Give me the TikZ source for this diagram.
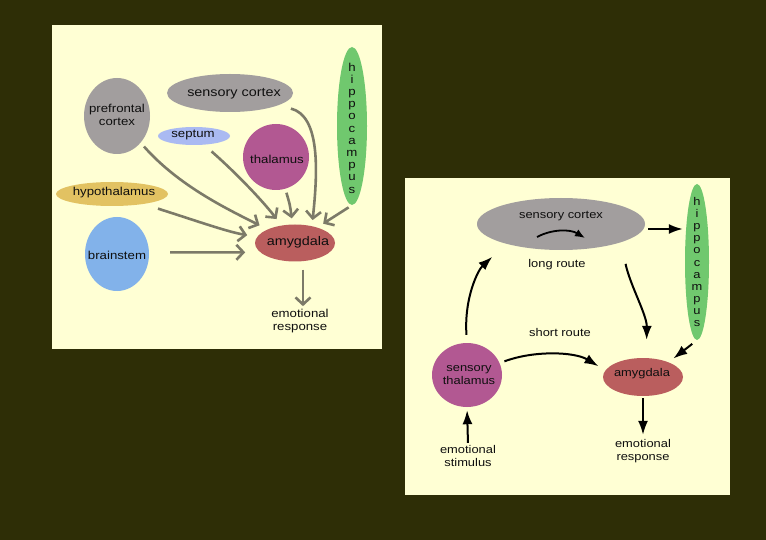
\documentclass[tikz,border=0pt]{standalone}
\usepackage{fontspec}
\setmainfont{Liberation Sans}[FakeStretch=1.15]
\usetikzlibrary{shapes.geometric,arrows.meta}
\definecolor{bgc}{RGB}{46,46,6}
\definecolor{panelc}{RGB}{255,255,212}
\definecolor{grayn}{RGB}{162,158,158}
\definecolor{septc}{RGB}{170,186,242}
\definecolor{thalc}{RGB}{178,88,146}
\definecolor{hipc}{RGB}{112,200,110}
\definecolor{hypoc}{RGB}{226,194,98}
\definecolor{stemc}{RGB}{130,178,234}
\definecolor{amyc}{RGB}{186,94,94}
\definecolor{larrc}{RGB}{124,122,104}
\definecolor{txtc}{RGB}{15,15,15}
\begin{document}
\begin{tikzpicture}[x=1pt,y=-1pt,
  blob/.style={ellipse, inner sep=0pt, draw=none},
  ltext/.style={text=txtc, inner sep=1pt, align=center, font=\fontsize{11.5}{12.5}\selectfont},
  lbig/.style={text=txtc, inner sep=1pt, align=center, font=\fontsize{12.5}{13.5}\selectfont},
  rtext/.style={text=txtc, inner sep=1pt, align=center, font=\fontsize{11.2}{13.5}\selectfont},
  larr/.style={draw=larrc, line width=2.6pt, -{Straight Barb[length=7pt,width=15pt]}},
  rarr/.style={draw=black, line width=2pt, -{Latex[length=14pt,width=10pt]}}]
\useasboundingbox (0,0) rectangle (766,540);
\fill[bgc] (0,0) rectangle (766,540);
\fill[panelc] (52,25) rectangle (382,349);
\fill[panelc] (405,178) rectangle (730,495);

% ---------- left panel ----------
\node[blob, fill=grayn, minimum width=66pt, minimum height=76pt] (pfc) at (117,116) {};
\node[ltext] (pfct) at (117,115) {prefrontal\\cortex};
\node[blob, fill=grayn, minimum width=126pt, minimum height=38pt] (sc) at (230,93) {};
\node[lbig] (sct) at (234,94) {sensory cortex};
\node[blob, fill=septc, minimum width=72pt, minimum height=18pt] (sep) at (194,136) {};
\node[ltext] (sept) at (193,135) {septum};
\node[blob, fill=thalc, minimum width=66pt, minimum height=66pt] (thal) at (276,157) {};
\node[ltext] (thalt) at (277,159) {thalamus};
\node[blob, fill=hipc, minimum width=30pt, minimum height=158pt] (hip) at (352,126) {};
\node[text=txtc, inner sep=0pt, align=center, font=\fontsize{11.5}{12.2}\selectfont] (hipt) at (352,128) {h\\i\\p\\p\\o\\c\\a\\m\\p\\u\\s};
\node[blob, fill=hypoc, minimum width=112pt, minimum height=24pt] (hypo) at (112,194) {};
\node[ltext] (hypot) at (114,193) {hypothalamus};
\node[blob, fill=stemc, minimum width=64pt, minimum height=74pt] (bs) at (117,254) {};
\node[ltext] (bst) at (117,255) {brainstem};
\node[blob, fill=amyc, minimum width=80pt, minimum height=37pt] (amy) at (295,243) {};
\node[lbig] (amyt) at (298,242) {amygdala};
\node[ltext] (resp) at (300,321) {emotional\\response};

\draw[larr, shorten <=5pt, shorten >=9pt] (pfc) .. controls (178,185) and (225,208) .. (amy);
\draw[larr, shorten <=10pt, shorten >=8pt] (sep) .. controls (235,172) and (262,200) .. (amy);
\draw[larr, shorten <=15pt, shorten >=10pt] (hypo) .. controls (200,222) and (228,232) .. (amy);
\draw[larr, shorten <=21pt, shorten >=15pt] (bs.3) -- (amy.195);
\draw[larr, shorten <=4pt, shorten >=6pt] (thal) .. controls (290,205) .. (amy);
\draw[larr, shorten <=13pt, shorten >=6pt] (sc) .. controls (320,116) and (318,170) .. (amy.45);
\draw[larr, shorten <=4pt, shorten >=7pt] (hip.south) -- (amy.35);
\draw[larr, shorten <=8pt, shorten >=2pt] ([xshift=8pt]amy.south) -- ([xshift=3pt]resp.north);

% ---------- right panel ----------
\node[blob, fill=grayn, minimum width=168pt, minimum height=52pt] (rsc) at (561,224) {};
\node[rtext] (rsct) at (561,216) {sensory cortex};
\coordinate (arcA) at (537,237);
\coordinate (arcB) at (585,238);
\draw[draw=black, line width=1.8pt, -{Latex[length=10pt,width=8pt]}] (arcA) .. controls (552,229) and (570,229) .. (arcB);
\node[rtext] (lr) at (557,265) {long route};
\node[rtext] (sr) at (560,332) {short route};
\node[blob, fill=hipc, minimum width=24pt, minimum height=156pt] (rhip) at (697,262) {};
\node[text=txtc, inner sep=0pt, align=center, font=\fontsize{11.2}{12.1}\selectfont] (rhipt) at (697,262) {h\\i\\p\\p\\o\\c\\a\\m\\p\\u\\s};
\node[blob, fill=thalc, minimum width=70pt, minimum height=64pt] (rth) at (467,375) {};
\node[rtext] (rtht) at (469,375) {sensory\\thalamus};
\node[blob, fill=amyc, minimum width=80pt, minimum height=38pt] (ramy) at (643,377) {};
\node[rtext] (ramyt) at (642,374) {amygdala};
\node[rtext] (rresp) at (643,451) {emotional\\response};
\node[rtext] (stim) at (468,456) {emotional\\stimulus};

\coordinate (rsce) at ([yshift=-5pt]rsc.east);
\draw[rarr, shorten <=3pt, shorten >=2pt] (rsce) -- (rsce -| rhip.west);
\draw[rarr, shorten <=8pt, shorten >=19pt] (rth.north) .. controls (464,298) and (478,270) .. (rsc.200);
\draw[rarr, shorten <=22pt, shorten >=18pt] (rsc.-17) .. controls (630,285) and (647,315) .. (ramy.80);
\draw[rarr, shorten <=5pt, shorten >=8pt] (rth.20) .. controls (535,350) and (575,352) .. (ramy.170);
\draw[rarr, shorten <=6pt, shorten >=6pt] (rhip.south) -- (ramy.30);
\draw[rarr, shorten <=2pt, shorten >=3pt] (ramy.south) -- (rresp.north);
\draw[rarr, shorten <=1pt, shorten >=3pt] (stim.north) -- (rth.south);
\end{tikzpicture}
\end{document}
